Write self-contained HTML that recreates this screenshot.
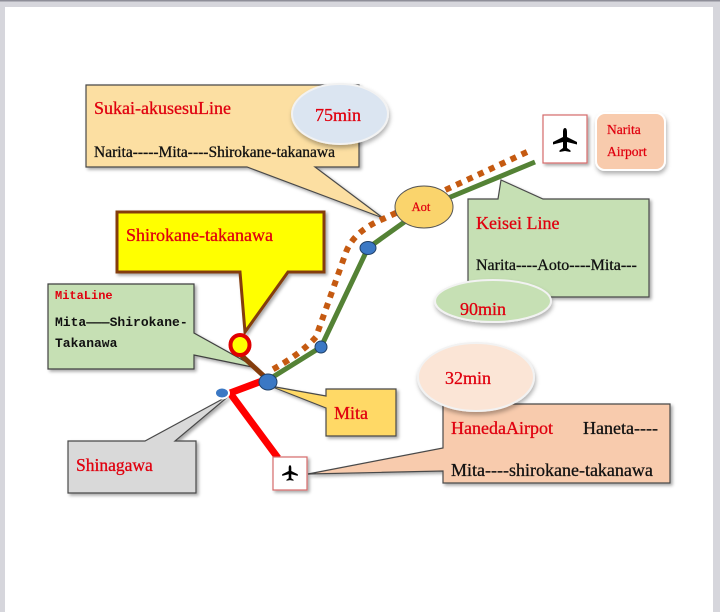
<!DOCTYPE html>
<html><head><meta charset="utf-8"><style>
html,body{margin:0;padding:0;width:720px;height:612px;overflow:hidden;background:#fff}
svg{display:block}
</style></head><body>
<svg width="720" height="612" viewBox="0 0 720 612" xmlns="http://www.w3.org/2000/svg">
<defs>
<filter id="sh" x="-20%" y="-20%" width="150%" height="150%">
<feDropShadow dx="2" dy="2" stdDeviation="1.5" flood-color="#000" flood-opacity="0.35"/>
</filter>
<filter id="sh2" x="-20%" y="-20%" width="150%" height="160%">
<feDropShadow dx="1" dy="3" stdDeviation="2" flood-color="#000" flood-opacity="0.3"/>
</filter>
<path id="plane" d="M0,-12 C1.5,-12 2,-10 2,-8 L2,-3 L12,2 L12,4.5 L2,2 L2,8 L5.5,10.5 L5.5,12 L0,11 L-5.5,12 L-5.5,10.5 L-2,8 L-2,2 L-12,4.5 L-12,2 L-2,-3 L-2,-8 C-2,-10 -1.5,-12 0,-12 Z"/>
</defs>
<!-- frame -->
<rect x="0" y="0" width="720" height="612" fill="#d6d6dc"/>
<rect x="0" y="0" width="720" height="1.5" fill="#8e8e98"/>
<rect x="5" y="7" width="708" height="605" fill="#fff"/>

<g font-family="'Liberation Serif', serif">
<!-- Sukai callout -->
<path d="M86,85 H359 V167 H315 L383,218 L247,167 H86 Z" fill="#fcdfa2" stroke="#4a4a4a" stroke-width="1.2" filter="url(#sh)"/>
<text x="94" y="114" font-size="18" fill="#e0000f" stroke="#e0000f" stroke-width="0.3">Sukai-akusesuLine</text>
<text x="94" y="157" font-size="15.5" fill="#111" stroke="#111" stroke-width="0.3">Narita-----Mita----Shirokane-takanawa</text>

<!-- Shirokane-takanawa callout -->
<path d="M117,212 H324 V272 H288 L245,332 L240,272 H117 Z" fill="#ffff00" stroke="#843c0c" stroke-width="3" filter="url(#sh)"/>
<text x="126" y="241" font-size="18" fill="#e0000f" stroke="#e0000f" stroke-width="0.3">Shirokane-takanawa</text>

<!-- MitaLine callout -->
<path d="M48,284 H194 V333 L257,368 L194,355 V369 H48 Z" fill="#c6e0b4" stroke="#404040" stroke-width="1.2" filter="url(#sh)"/>
<text x="55" y="299" font-family="'Liberation Mono', monospace" font-weight="bold" font-size="12" fill="#e0000f">MitaLine</text>
<text x="55" y="326" font-family="'Liberation Mono', monospace" font-weight="bold" font-size="13" fill="#111">Mita———Shirokane-</text>
<text x="55" y="347" font-family="'Liberation Mono', monospace" font-weight="bold" font-size="13" fill="#111">Takanawa</text>

<!-- Keisei callout -->
<path d="M468,199 H498 L501,180 L543,199 H649 V297 H468 Z" fill="#c6e0b4" stroke="#4a4a4a" stroke-width="1.2" filter="url(#sh)"/>
<text x="476" y="229" font-size="18" fill="#e0000f" stroke="#e0000f" stroke-width="0.3">Keisei Line</text>
<text x="476" y="270" font-size="16" fill="#111" stroke="#111" stroke-width="0.3">Narita----Aoto----Mita---</text>

<!-- Mita callout -->
<path d="M326,389 H396 V436 H326 V408 L270,386 L326,396 Z" fill="#ffd966" stroke="#4a4a4a" stroke-width="1.2" filter="url(#sh)"/>
<text x="334" y="419" font-size="18" fill="#e0000f" stroke="#e0000f" stroke-width="0.3">Mita</text>

<!-- Shinagawa callout -->
<path d="M68,441 H145 L230,395 L175,441 H196 V493 H68 Z" fill="#d9d9d9" stroke="#4a4a4a" stroke-width="1.2" filter="url(#sh)"/>
<text x="76" y="471" font-size="17.5" fill="#e0000f" stroke="#e0000f" stroke-width="0.3">Shinagawa</text>

<!-- Haneda callout -->
<path d="M443,404 H670 V483 H443 V471 L308,474 L443,448 Z" fill="#f8cbad" stroke="#4a4a4a" stroke-width="1.2" filter="url(#sh)"/>
<text x="451" y="434" font-size="18" fill="#e0000f" stroke="#e0000f" stroke-width="0.3">HanedaAirpot</text>
<text x="583" y="434" font-size="18" fill="#111" stroke="#111" stroke-width="0.3">Haneta----</text>
<text x="451" y="476" font-size="18" fill="#111" stroke="#111" stroke-width="0.3">Mita----shirokane-takanawa</text>

<!-- lines -->
<path d="M527,152 L383,219 Q352,232 345,255 L316,337 Q300,355 268,372" fill="none" stroke="#c55a11" stroke-width="6" stroke-dasharray="6 6"/>
<polyline points="535,162 424,208 368,248 321,347 268,380" fill="none" stroke="#548235" stroke-width="5" stroke-linejoin="round"/>
<line x1="241" y1="355" x2="266" y2="378" stroke="#843c0c" stroke-width="5"/>
<polyline points="262,381 230,393 278,458" fill="none" stroke="#ff0000" stroke-width="7" stroke-linejoin="miter"/>

<!-- Aot -->
<ellipse cx="424" cy="207" rx="29" ry="21" fill="#fad46c" stroke="#555" stroke-width="1"/>
<text x="421" y="211" font-size="12.5" fill="#e0000f" stroke="#e0000f" stroke-width="0.25" text-anchor="middle">Aot</text>

<!-- nodes -->
<ellipse cx="268" cy="382" rx="9" ry="8" fill="#3b78c4" stroke="#1f3f66" stroke-width="1"/>
<ellipse cx="368" cy="248" rx="8" ry="6.5" fill="#3b78c4" stroke="#1f3f66" stroke-width="1"/>
<ellipse cx="321" cy="347" rx="6" ry="6" fill="#3b78c4" stroke="#1f3f66" stroke-width="1"/>
<ellipse cx="222" cy="393" rx="7" ry="5.5" fill="#3b78c4" stroke="#fff" stroke-width="2"/>
<ellipse cx="240" cy="345" rx="9.5" ry="10" fill="#ffff00" stroke="#e00000" stroke-width="4"/>

<!-- Narita plane box -->
<rect x="543" y="115" width="44" height="48" fill="#fff" stroke="#d46a6a" stroke-width="1.2" filter="url(#sh)"/>
<use href="#plane" transform="translate(565,140)" fill="#000"/>
<rect x="596" y="113" width="69" height="57" rx="9" fill="#f8cbad" stroke="#fff" stroke-width="2" filter="url(#sh2)"/>
<text x="607" y="134" font-size="13.5" fill="#e0000f" stroke="#e0000f" stroke-width="0.25">Narita</text>
<text x="607" y="156" font-size="13.5" fill="#e0000f" stroke="#e0000f" stroke-width="0.25">Airport</text>

<!-- Haneda plane box -->
<rect x="273" y="457" width="34" height="33" fill="#fff" stroke="#d46a6a" stroke-width="1.2" filter="url(#sh)"/>
<use href="#plane" transform="translate(290,473) scale(0.65)" fill="#000"/>

<!-- bubbles -->
<ellipse cx="340" cy="114" rx="48" ry="30" fill="#dbe5f1" stroke="#f2f2f2" stroke-width="2" filter="url(#sh2)"/>
<text x="338" y="121" font-size="18" fill="#e0000f" stroke="#e0000f" stroke-width="0.3" text-anchor="middle">75min</text>

<ellipse cx="493" cy="301" rx="58" ry="21" fill="#c6e0b4" stroke="#f2f2f2" stroke-width="2" filter="url(#sh2)"/>
<text x="483" y="315" font-size="18" fill="#e0000f" stroke="#e0000f" stroke-width="0.3" text-anchor="middle">90min</text>

<ellipse cx="476" cy="377" rx="58" ry="34" fill="#fbe5d6" stroke="#f2f2f2" stroke-width="2" filter="url(#sh2)"/>
<text x="468" y="384" font-size="18" fill="#e0000f" stroke="#e0000f" stroke-width="0.3" text-anchor="middle">32min</text>
</g>
</svg>
</body></html>
